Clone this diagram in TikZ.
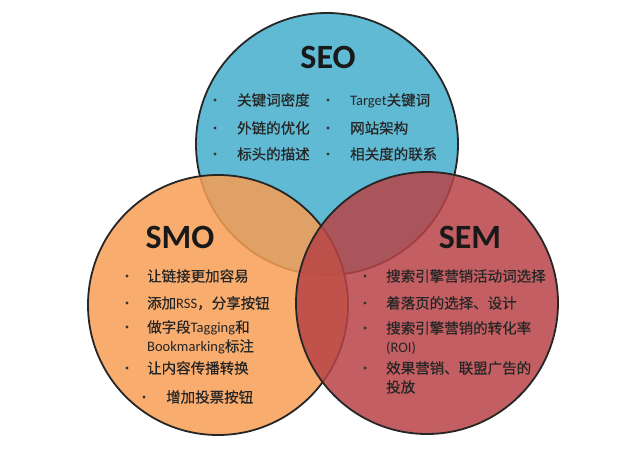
\documentclass[tikz,border=0pt]{standalone}
\usepackage{fontspec}
\setmainfont{Noto Sans CJK SC}[FakeBold=0.5]
\newfontfamily\latfont{Carlito}
\usepackage{tikz}

\definecolor{azulseo}{RGB}{96,186,211}
\definecolor{laranjasmo}{RGB}{247,157,84}
\definecolor{vermelhosem}{RGB}{184,67,70}
\newcommand{\lat}[1]{{\latfont #1}}

\begin{document}
\begin{tikzpicture}[x=1pt, y=1pt,
    circulo/.style={draw=black!85, line width=1.8pt},
    titulo/.style={font=\latfont\bfseries\fontsize{34}{40}\selectfont, text=black!90},
    ponto/.style={circle, fill=black!80, inner sep=0pt, minimum size=3.4pt},
    texto/.style={anchor=west, inner sep=0pt, text height=13pt, text depth=2pt,
        font=\fontsize{14.5}{17}\selectfont, text=black!85}]
    \useasboundingbox (0,0) rectangle (640,448);

    % círculos
    \draw[circulo, fill=azulseo] (327,304) circle (131);
    \draw[circulo, fill=laranjasmo, fill opacity=0.85] (218,143) circle (130);
    \draw[circulo, fill=vermelhosem, fill opacity=0.85] (427,145) circle (131);

    % SEO
    \node[titulo] (seo) at (328,391) {SEO};
    \foreach \y/\t [count=\i] in {348/关键词密度, 320/外链的优化, 294/标头的描述} {
        \node[ponto] (seo-p\i) at (215,\y) {};
        \node[texto] (seo-t\i) at (237,\y) {\t};
    }
    \foreach \y/\t [count=\i] in {348/\lat{Target}关键词, 320/网站架构, 294/相关度的联系} {
        \node[ponto] (seo-q\i) at (328,\y) {};
        \node[texto] (seo-s\i) at (350,\y) {\t};
    }

    % SMO
    \node[titulo] (smo) at (180,211) {SMO};
    \foreach \y/\t [count=\i] in {172/让链接更加容易, 145/添加\lat{RSS}，分享按钮,
            121/做字段\lat{Tagging}和, 80/让内容传播转换} {
        \node[ponto] (smo-p\i) at (127,\y) {};
        \node[texto] (smo-t\i) at (147,\y) {\t};
    }
    \node[texto] (smo-t3b) at (147,102) {\lat{Bookmarking}标注};
    \node[ponto] (smo-p5) at (144,51) {};
    \node[texto] (smo-t5) at (166,51) {增加投票按钮};

    % SEM
    \node[titulo] (sem) at (470,211) {SEM};
    \foreach \y/\t [count=\i] in {172/搜索引擎营销活动词选择, 145/着落页的选择、设计,
            120/搜索引擎营销的转化率, 80/效果营销、联盟广告的} {
        \node[ponto] (sem-p\i) at (365,\y) {};
        \node[texto] (sem-t\i) at (386,\y) {\t};
    }
    \node[texto] (sem-t3b) at (386,101) {\lat{(ROI)}};
    \node[texto] (sem-t4b) at (386,61) {投放};

\end{tikzpicture}
\end{document}
